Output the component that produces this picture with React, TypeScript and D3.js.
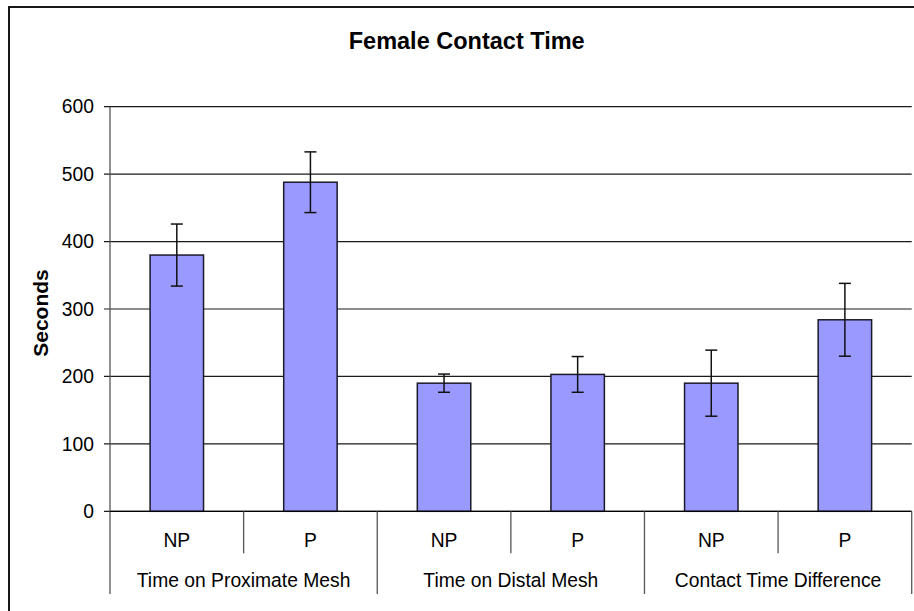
import React from "react";
import * as d3 from "d3";

const groups = ["Time on Proximate Mesh", "Time on Distal Mesh", "Contact Time Difference"];
const conditions = ["NP", "P"];
const means = [380, 488, 190, 203, 190, 284];
const errors = [46, 45, 13.5, 26.5, 49, 54];
const yTicks = [0, 100, 200, 300, 400, 500, 600];

const W = 914;
const H = 611;
const left = 110;
const right = 911.7;
const top = 106.7;
const bottom = 511.3;

export default function App() {
  const keys: string[] = [];
  groups.forEach((g, gi) => conditions.forEach((c, ci) => keys.push(`${gi}-${ci}`)));
  const x = d3.scaleBand<string>().domain(keys).range([left, right]).paddingInner(0).paddingOuter(0);
  const y = d3.scaleLinear().domain([0, 600]).range([bottom, top]);
  const step = x.step();
  const bw = step * 0.4;
  const font = "Liberation Sans, Arial, sans-serif";
  const capW = 6;

  return (
    <svg width={W} height={H} style={{ position: "absolute", left: 0, top: 0, background: "#fff" }} fontFamily={font}>
      <rect x={9} y={7} width={930} height={640} fill="#fff" stroke="#000" strokeWidth={1.8} />
      <text x={466.7} y={49} textAnchor="middle" fontSize={23.5} fontWeight="bold">Female Contact Time</text>
      {yTicks.map((t) => (
        <g key={t}>
          <line x1={104} x2={right} y1={y(t)} y2={y(t)} stroke="#1a1a1a" strokeWidth={1.2} />
          <text x={94} y={y(t)} dy="0.35em" textAnchor="end" fontSize={19.3}>{t}</text>
        </g>
      ))}
      <line x1={left} x2={left} y1={top} y2={594} stroke="#555" strokeWidth={1.3} />
      <text transform={`translate(48.3,313) rotate(-90)`} textAnchor="middle" fontSize={21} fontWeight="bold">Seconds</text>
      {means.map((m, i) => {
        const k = keys[i];
        const cx = (x(k) as number) + step / 2;
        return (
          <g key={k}>
            <rect x={cx - bw / 2} y={y(m)} width={bw} height={y(0) - y(m)} fill="#9999FF" stroke="#1a1a2a" strokeWidth={1.5} />
            <line x1={cx} x2={cx} y1={y(m + errors[i])} y2={y(m - errors[i])} stroke="#111" strokeWidth={1.5} />
            <line x1={cx - capW} x2={cx + capW} y1={y(m + errors[i])} y2={y(m + errors[i])} stroke="#111" strokeWidth={1.5} />
            <line x1={cx - capW} x2={cx + capW} y1={y(m - errors[i])} y2={y(m - errors[i])} stroke="#111" strokeWidth={1.5} />
            <text x={cx} y={546.7} textAnchor="middle" fontSize={19.3}>{conditions[i % 2]}</text>
          </g>
        );
      })}
      <line x1={left} x2={right} y1={y(0)} y2={y(0)} stroke="#000" strokeWidth={1.3} />
      {keys.map((k, i) => {
        if (i % 2 === 1) {
          const xs = (x(k) as number);
          return <line key={"s" + k} x1={xs} x2={xs} y1={bottom} y2={553.3} stroke="#555" strokeWidth={1.3} />;
        }
        return null;
      })}
      {groups.map((g, gi) => {
        const x0 = x(keys[gi * 2]) as number;
        const x1 = x0 + step * 2;
        return (
          <g key={g}>
            <line x1={x1} x2={x1} y1={bottom} y2={594} stroke="#555" strokeWidth={1.3} />
            <text x={(x0 + x1) / 2} y={586.7} textAnchor="middle" fontSize={19.3}>{g}</text>
          </g>
        );
      })}
    </svg>
  );
}
